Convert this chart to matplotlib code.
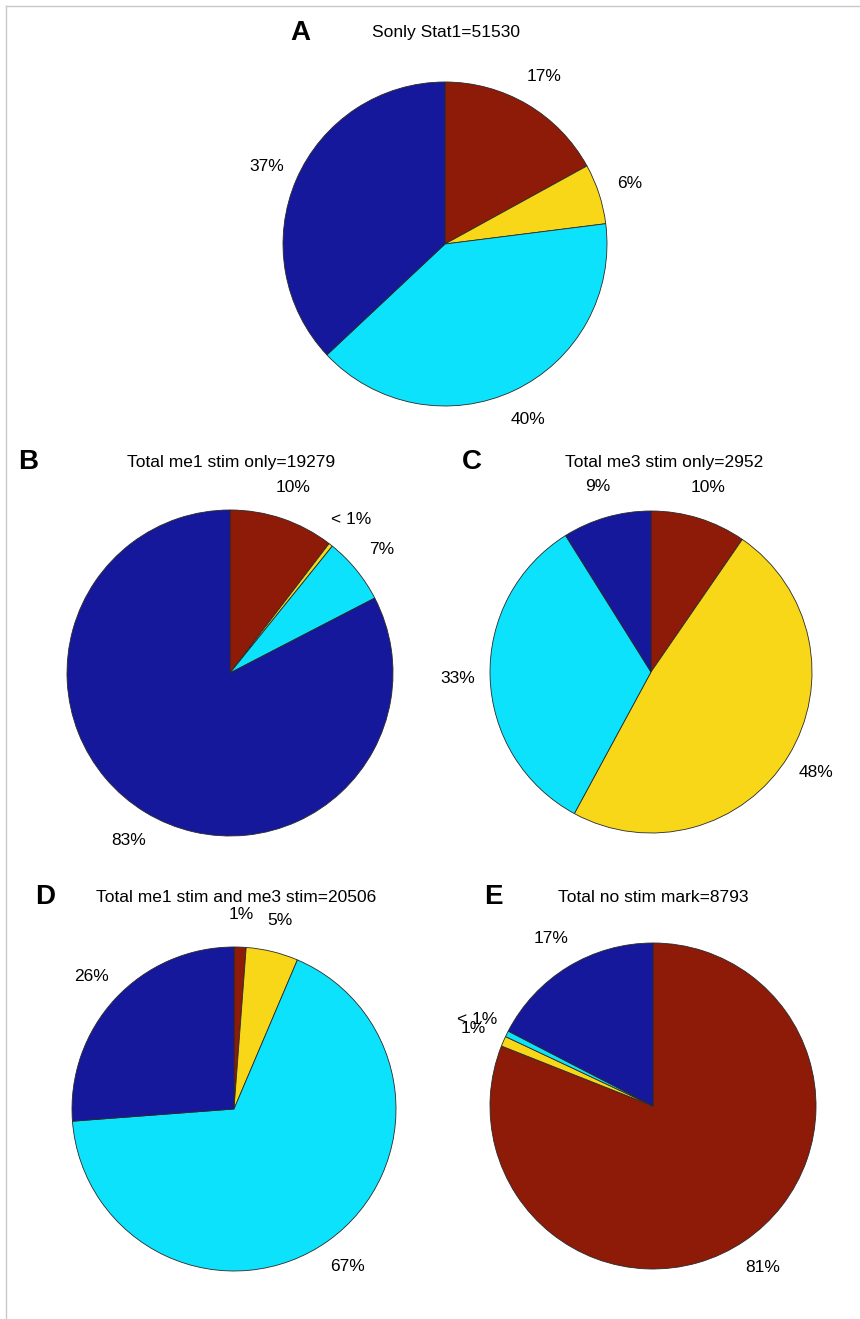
import matplotlib.pyplot as plt
from matplotlib.lines import Line2D

W, H = 860, 1319

plt.rcParams['font.family'] = ['Liberation Sans Narrow', 'Liberation Sans', 'DejaVu Sans']

colors = ['#8e1a08', '#f8d718', '#0ce2fb', '#15189b']

# share of peaks per category (red, yellow, cyan, blue), percent
panel_letters = ['A', 'B', 'C', 'D', 'E']
panel_titles = ['Sonly Stat1=51530',
                'Total me1 stim only=19279',
                'Total me3 stim only=2952',
                'Total me1 stim and me3 stim=20506',
                'Total no stim mark=8793']
vals_a = [17.0, 6.0, 40.0, 37.0]
vals_b = [10.4, 0.4, 6.6, 82.6]
vals_c = [9.6, 48.3, 33.2, 8.9]
vals_d = [1.2, 5.2, 67.4, 26.2]
vals_e = [81.0, 1.0, 0.6, 17.4]


def pct_label(v):
    return '< 1%' if v < 1 else '%d%%' % round(v)


def px(x, y):
    return x / W, 1 - y / H


def add_pie(fig, vals, cx, cy, r, title, title_xy, letter, letter_xy):
    ax = fig.add_axes([(cx - r) / W, 1 - (cy + r) / H, 2 * r / W, 2 * r / H])
    wedges, texts = ax.pie(vals, colors=colors, startangle=90, counterclock=False,
                           labels=[pct_label(v) for v in vals], labeldistance=1.2,
                           wedgeprops=dict(edgecolor='#2a2a2a', linewidth=0.6),
                           textprops=dict(fontsize=12.5))
    for t in texts:
        t.set_ha('center')
        t.set_va('center')
    ax.set_xlim(-1, 1)
    ax.set_ylim(-1, 1)
    ax.set_aspect('auto')
    ax.axis('off')
    fig.text(*px(*title_xy), title, fontsize=12.5, ha='center', va='center')
    fig.text(*px(*letter_xy), letter, fontsize=20, fontweight='bold',
             ha='center', va='center')


fig = plt.figure(figsize=(W / 100, H / 100), dpi=100)

add_pie(fig, vals_a, 445, 244, 162, panel_titles[0], (446, 33), panel_letters[0], (300, 33))
add_pie(fig, vals_b, 230, 673, 163, panel_titles[1], (231, 462), panel_letters[1], (28, 462))
add_pie(fig, vals_c, 651, 672, 161, panel_titles[2], (664, 462), panel_letters[2], (472, 462))
add_pie(fig, vals_d, 234, 1109, 162, panel_titles[3], (236, 897), panel_letters[3], (45, 897))
add_pie(fig, vals_e, 653, 1106, 163, panel_titles[4], (653, 897), panel_letters[4], (493, 897))

# thin frame along the top and left edges
fig.add_artist(Line2D([6 / W, 1], [1 - 6 / H] * 2, color='#c8c8c8', lw=1))
fig.add_artist(Line2D([6 / W] * 2, [0, 1 - 6 / H], color='#c8c8c8', lw=1))

fig.savefig('out.png', dpi=100)
